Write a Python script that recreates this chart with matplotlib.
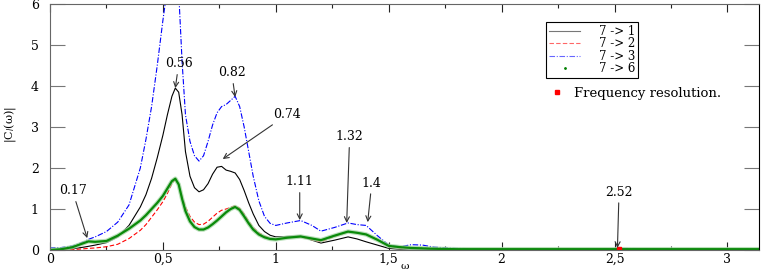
import matplotlib
matplotlib.use("Agg")
import matplotlib.pyplot as plt
from matplotlib.lines import Line2D
from matplotlib.ticker import MultipleLocator, FuncFormatter

# frequency grid (omega) shared by all curves
omega = [0.0, 0.05, 0.1, 0.15, 0.17, 0.2, 0.25, 0.3, 0.35, 0.4,
         0.425, 0.45, 0.475, 0.5, 0.52, 0.54, 0.555, 0.57, 0.585, 0.6,
         0.62, 0.64, 0.66, 0.68, 0.7, 0.72, 0.74, 0.76, 0.78, 0.8,
         0.82, 0.84, 0.86, 0.88, 0.9, 0.925, 0.95, 0.975, 1.0, 1.05,
         1.11, 1.16, 1.2, 1.26, 1.32, 1.36, 1.4, 1.45, 1.5, 1.55,
         1.6, 1.65, 1.7, 1.8, 1.9, 2.0, 2.2, 2.4, 2.52, 2.7,
         2.9, 3.14]

# |C_l(omega)| for each pair
c_7_1 = [0.0, 0.01, 0.03, 0.07, 0.09, 0.12, 0.18, 0.32, 0.6, 1.05,
         1.35, 1.75, 2.25, 2.8, 3.3, 3.75, 3.95, 3.85, 3.3, 2.4,
         1.8, 1.52, 1.42, 1.47, 1.62, 1.85, 2.02, 2.04, 1.95, 1.92,
         1.88, 1.72, 1.45, 1.15, 0.88, 0.6, 0.45, 0.36, 0.32, 0.33,
         0.34, 0.24, 0.17, 0.24, 0.32, 0.27, 0.2, 0.12, 0.04, 0.02,
         0.02, 0.02, 0.01, 0.01, 0.01, 0.01, 0.01, 0.01, 0.01, 0.01,
         0.01, 0.01]
c_7_2 = [0.0, 0.0, 0.01, 0.03, 0.04, 0.05, 0.08, 0.14, 0.28, 0.48,
         0.62, 0.8, 0.98, 1.18, 1.38, 1.62, 1.72, 1.6, 1.3, 1.05,
         0.82, 0.68, 0.62, 0.63, 0.7, 0.8, 0.9, 0.97, 1.0, 1.04,
         1.08, 1.02, 0.88, 0.7, 0.55, 0.42, 0.34, 0.29, 0.27, 0.3,
         0.32, 0.25, 0.2, 0.33, 0.44, 0.42, 0.38, 0.25, 0.1, 0.05,
         0.05, 0.05, 0.03, 0.02, 0.02, 0.02, 0.02, 0.02, 0.03, 0.02,
         0.02, 0.02]
c_7_3 = [0.05, 0.06, 0.1, 0.2, 0.26, 0.32, 0.45, 0.68, 1.1, 2.0,
         2.7, 3.5, 4.5, 5.6, 6.4, 6.8, 6.9, 6.3, 4.6, 3.3,
         2.65, 2.3, 2.17, 2.3, 2.65, 3.05, 3.35, 3.5, 3.55, 3.65,
         3.75, 3.5, 3.0, 2.4, 1.8, 1.2, 0.82, 0.65, 0.6, 0.66,
         0.72, 0.6, 0.46, 0.55, 0.66, 0.62, 0.6, 0.35, 0.12, 0.08,
         0.13, 0.12, 0.07, 0.04, 0.03, 0.03, 0.03, 0.03, 0.04, 0.03,
         0.02, 0.02]
c_7_6 = [0.0, 0.02, 0.07, 0.17, 0.21, 0.2, 0.22, 0.35, 0.52, 0.72,
         0.85, 1.0, 1.15, 1.32, 1.5, 1.68, 1.74, 1.6, 1.25, 0.95,
         0.7, 0.56, 0.5, 0.5, 0.55, 0.63, 0.72, 0.82, 0.92, 1.0,
         1.05, 0.98, 0.82, 0.65, 0.5, 0.38, 0.31, 0.27, 0.26, 0.3,
         0.33, 0.28, 0.24, 0.35, 0.45, 0.42, 0.38, 0.25, 0.1, 0.07,
         0.05, 0.04, 0.03, 0.02, 0.02, 0.02, 0.02, 0.02, 0.02, 0.02,
         0.02, 0.02]

# frequency resolution marker
res_x = [2.52]
res_y = [0.03]

# peak annotations
ann_labels = ['0.17', '0.56', '0.82', '0.74', '1.11', '1.32', '1.4', '2.52']
ann_tip_x = [0.165, 0.555, 0.82, 0.765, 1.106, 1.314, 1.407, 2.513]
ann_tip_y = [0.29, 3.95, 3.73, 2.22, 0.73, 0.66, 0.68, 0.05]
ann_text_x = [0.10, 0.57, 0.805, 1.05, 1.106, 1.327, 1.425, 2.52]
ann_text_y = [1.44, 4.54, 4.32, 3.3, 1.66, 2.76, 1.63, 1.41]

plt.rcParams['font.family'] = ['DejaVu Serif', 'Liberation Serif']

fig = plt.figure(figsize=(7.63, 2.73), dpi=100)
ax = fig.add_axes([0.0655, 0.0842, 0.9293, 0.9008])

ax.plot(omega, c_7_1, color='black', lw=0.8, label='7 -> 1')
ax.plot(omega, c_7_2, color='red', lw=0.8, dashes=(4, 2), label='7 -> 2')
ax.plot(omega, c_7_3, color='blue', lw=0.8, dashes=(5, 1.5, 1, 1.5), label='7 -> 3')
ax.plot(omega, c_7_6, color='#a8d8a8', lw=3.2, alpha=0.8)
ax.plot(omega, c_7_6, color='#0a8a0a', lw=1.6, label='7 -> 6')
ax.plot(res_x, res_y, marker='s', ms=3, color='red', ls='none')

for lab, tx, ty, px, py in zip(ann_labels, ann_tip_x, ann_tip_y, ann_text_x, ann_text_y):
    ax.annotate(lab, xy=(tx, ty), xytext=(px, py), ha='center', va='center',
                fontsize=9,
                arrowprops=dict(arrowstyle='->', color='#333333', lw=0.8,
                                shrinkA=1, shrinkB=0))

ax.set_xlim(0, 3.14)
ax.set_ylim(0, 6)
ax.xaxis.set_major_locator(MultipleLocator(0.5))
ax.xaxis.set_minor_locator(MultipleLocator(0.25))
ax.yaxis.set_major_locator(MultipleLocator(1))
ax.xaxis.set_major_formatter(FuncFormatter(lambda v, p: f'{v:g}'.replace('.', ',')))

ax.tick_params(axis='x', which='major', direction='in', length=6, width=0.8,
               top=True, bottom=True, labelsize=9, pad=2, color='#222222')
ax.tick_params(axis='x', which='minor', direction='in', length=3, width=0.8,
               top=True, bottom=True, color='#222222')
ax.tick_params(axis='y', which='major', direction='in', length=11, width=0.8,
               left=True, right=True, labelsize=9, pad=8, color='#777777')

for side in ['left', 'top', 'bottom']:
    ax.spines[side].set_color('#666666')
ax.spines['right'].set_color('black')

ax.set_xlabel('ω', fontsize=7.5, va='center')
ax.xaxis.set_label_coords(0.5, -0.066)
ax.set_ylabel('|C$_l$(ω)|', fontsize=8, va='center')
ax.yaxis.set_label_coords(-0.056, 0.51)

handles = [Line2D([], [], color='#777777', lw=0.8),
           Line2D([], [], color='red', lw=0.8, dashes=(4, 2), alpha=0.6),
           Line2D([], [], color='blue', lw=0.8, dashes=(5, 1.5, 1, 1.5), alpha=0.6),
           Line2D([], [], color='green', marker='.', ms=2, ls='none')]
leg = ax.legend(handles, ['7 -> 1', '7 -> 2', '7 -> 3', '7 -> 6'],
                loc='upper left', bbox_to_anchor=(0.70, 0.927), fontsize=8.5,
                frameon=True, fancybox=False, edgecolor='black', framealpha=1,
                handlelength=2.6, handletextpad=1.6, borderpad=0.25,
                labelspacing=-0.05, borderaxespad=0)
leg.get_frame().set_linewidth(0.8)
ax.add_artist(leg)

res_handle = [Line2D([], [], color='red', marker='s', ms=3, ls='none')]
ax.legend(res_handle, ['Frequency resolution.'], loc='upper left',
          bbox_to_anchor=(0.70, 0.685), frameon=False, fontsize=9.5,
          handlelength=0.8, handletextpad=0.9, borderaxespad=0)

fig.savefig('out.png', dpi=100)
